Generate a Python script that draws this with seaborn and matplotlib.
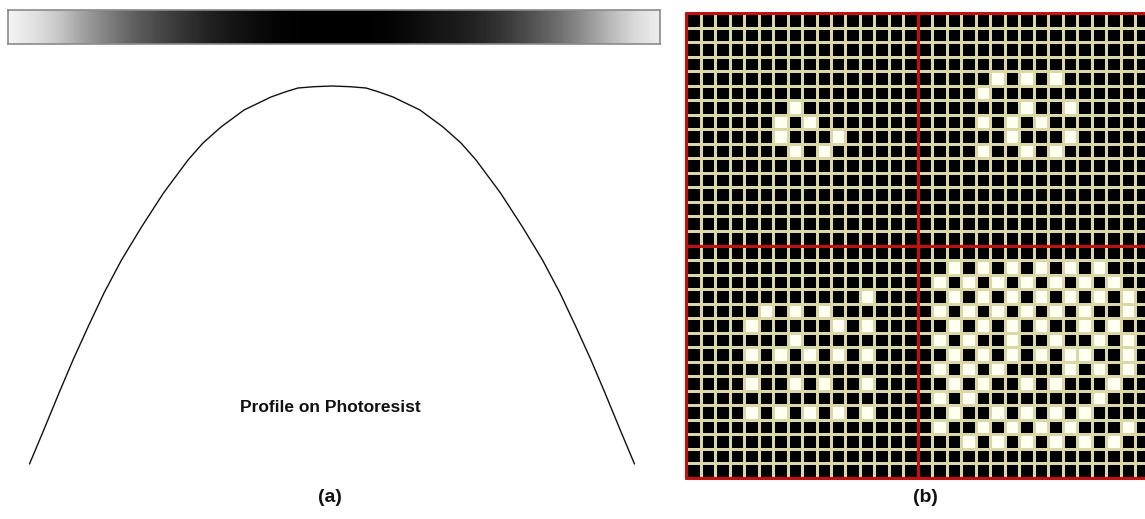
import numpy as np
import matplotlib
matplotlib.use("Agg")
import matplotlib.pyplot as plt
from matplotlib.colors import ListedColormap
import seaborn as sns

# ---------------- data ----------------
# gray level of the exposure bar (0 = black, 1 = white), sampled every 25 px
grad_x = [10, 35, 60, 85, 110, 135, 160, 185, 210, 235, 260, 285, 310, 335,
          360, 385, 410, 435, 460, 485, 510, 535, 560, 585, 610, 635, 660]
grad_level = [0.95, 0.88, 0.77, 0.62, 0.49, 0.37, 0.28, 0.20, 0.13, 0.08, 0.04,
              0.01, 0.0, 0.0, 0.0, 0.01, 0.04, 0.08, 0.11, 0.16, 0.24, 0.33,
              0.44, 0.57, 0.72, 0.85, 0.93]

# profile on photoresist (x position, vertical position in picture px)
profile_x = [29.5, 45, 59, 73, 88, 104, 121.5, 141.5, 163.5, 188, 203, 221,
             244, 271, 285, 298, 314, 332, 350, 366, 379, 393, 420, 443, 461,
             476, 500.5, 522.5, 542.5, 560, 576, 591, 605, 619, 634.5]
profile_y = [464, 427, 393, 360, 327, 293, 260, 227, 193, 160, 143, 127,
             110, 97, 92, 88, 86.7, 86, 86.7, 88, 92, 97, 110, 127, 143,
             160, 193, 227, 260, 293, 327, 360, 393, 427, 464]

profile_label = "Profile on Photoresist"
panel_labels = ["(a)", "(b)"]

# binary pixel patterns of the four 16x16 quadrants ('#' = exposed / white)
q_top_left = [
    "................",
    "................",
    "................",
    "................",
    "................",
    "................",
    ".......#........",
    "......#.#.......",
    "......#...#.....",
    ".......#.#......",
    "................",
    "................",
    "................",
    "................",
    "................",
    "................",
]
q_top_right = [
    "................",
    "................",
    "................",
    "................",
    ".....#.#.#......",
    "....#...........",
    ".......#..#.....",
    "....#.#.#.......",
    "......#...#.....",
    "....#..#.#......",
    "................",
    "................",
    "................",
    "................",
    "................",
    "................",
]
q_bottom_left = [
    "................",
    "................",
    "................",
    "............#...",
    ".....#.#.#......",
    "....#.....#.#...",
    ".......#........",
    "....#.#.#.#.#...",
    "................",
    "....#..#.#..#...",
    "................",
    "....#.#.#.#.#...",
    "................",
    "................",
    "................",
    "................",
]
q_bottom_right = [
    "................",
    "..#.#.#.#.#.#...",
    ".#.#.#.#.#.#.#..",
    "..#.#.#.#.#.#.#.",
    ".#.#.#.#.#.#..#.",
    "..#.#.#.#..#.#..",
    ".#.#..#..#..#.#.",
    "..#.#.#.#.##..#.",
    ".#.#.#....#.#.#.",
    "..#.#..#.#...#..",
    ".#.#........#...",
    "..#..#.#.#.#....",
    ".#..#.#.#.#...#.",
    "...#.#.#.#.#.#..",
    "................",
    "................",
]

# ---------------- figure ----------------
sns.set_theme(style="white")
plt.rcParams["font.family"] = ["Liberation Sans", "DejaVu Sans"]

W, H = 1145, 519
fig = plt.figure(figsize=(W / 100, H / 100), dpi=100)
fig.patch.set_facecolor("white")

# ---- panel (a): profile curve ----
ax_p = fig.add_axes([0, 0, 670 / W, 1])
sns.lineplot(x=profile_x, y=profile_y, sort=False, color="#111111",
             linewidth=1.0, ax=ax_p, estimator=None)
ax_p.set_xlim(0, 670)
ax_p.set_ylim(H, 0)
ax_p.axis("off")
ax_p.text(330, 408, profile_label, ha="center", va="center",
          fontsize=12.5, fontweight="bold", color="#111111")
ax_p.text(330, 497, panel_labels[0], ha="center", va="center",
          fontsize=14, fontweight="bold", color="#111111")

# ---- panel (a): exposure gradient bar ----
ax_g = fig.add_axes([8 / W, 1 - 44 / H, 652 / W, 34 / H])
step = grad_x[1] - grad_x[0]
ax_g.imshow(np.array(grad_level)[None, :], cmap="gray", vmin=0, vmax=1,
            aspect="auto", interpolation="bilinear",
            extent=[grad_x[0] - step / 2, grad_x[-1] + step / 2, 0, 1])
ax_g.set_xlim(8, 660)
ax_g.set_ylim(0, 1)
ax_g.set_xticks([])
ax_g.set_yticks([])
for s in ax_g.spines.values():
    s.set_color("#8a8a8a")
    s.set_linewidth(1.2)
    s.set_visible(True)

# ---- panel (b): pixel grid ----
def to_arr(rows):
    return np.array([[1 if ch == "#" else 0 for ch in r] for r in rows])

grid = np.block([[to_arr(q_top_left), to_arr(q_top_right)],
                 [to_arr(q_bottom_left), to_arr(q_bottom_right)]])

ax_b = fig.add_axes([686 / W, 1 - 478 / H, 464 / W, 465 / H])
sns.heatmap(grid, cmap=ListedColormap(["#000000", "#fffff2"]), vmin=0, vmax=1,
            cbar=False, linewidths=0.75, linecolor="#dcd7a6",
            xticklabels=False, yticklabels=False, ax=ax_b)
n = grid.shape[0]
for v in (0, n // 2, n):
    ax_b.axhline(v, color="#c01010", linewidth=2.2, clip_on=False)
    ax_b.axvline(v, color="#c01010", linewidth=2.2, clip_on=False)

fig.text(925 / W, 1 - 497 / H, panel_labels[1], ha="center", va="center",
         fontsize=14, fontweight="bold", color="#111111")

fig.savefig("out.png", dpi=100, facecolor="white")
